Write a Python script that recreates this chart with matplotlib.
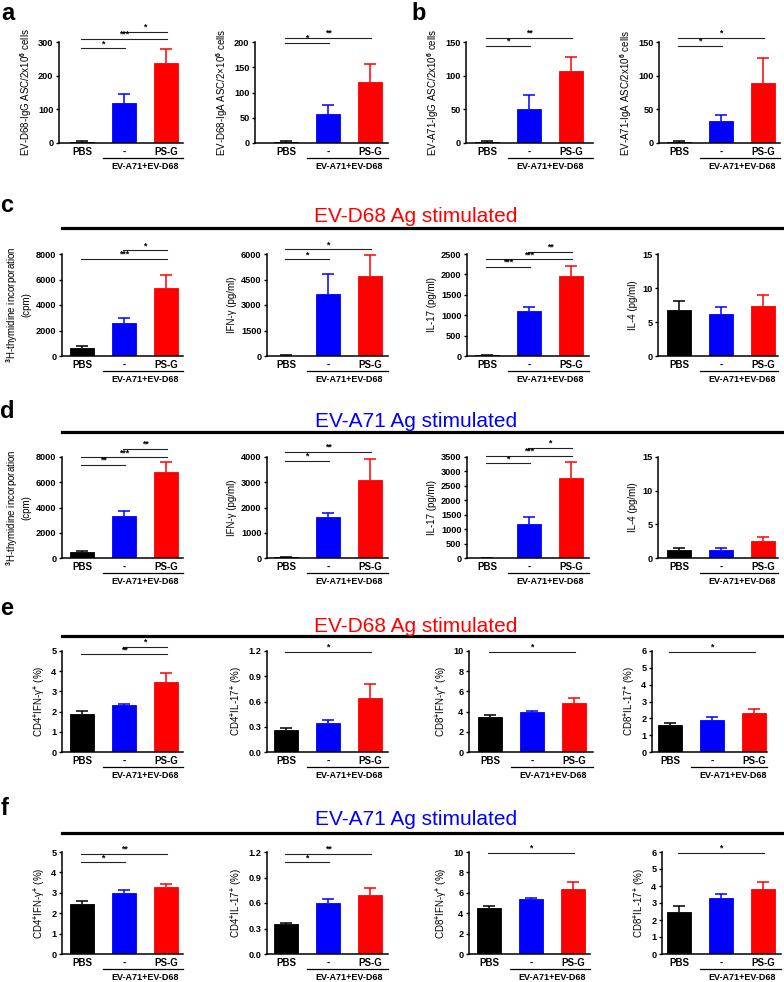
import numpy as np
import matplotlib
matplotlib.use('Agg')
import matplotlib.pyplot as plt
from matplotlib.transforms import blended_transform_factory

plt.rcParams['font.family'] = ['Liberation Sans', 'DejaVu Sans']
plt.rcParams['font.weight'] = 'bold'
plt.rcParams['mathtext.fontset'] = 'custom'
plt.rcParams['mathtext.rm'] = 'Liberation Sans:bold'
plt.rcParams['mathtext.bf'] = 'Liberation Sans:bold'
plt.rcParams['mathtext.it'] = 'Liberation Sans:bold'
plt.rcParams['mathtext.default'] = 'bf'

groups = ['PBS', '-', 'PS-G']
group_label = 'EV-A71+EV-D68'
bar_colors = ['#000000', '#0000FF', '#FF0000']

# ---- data (mean, upper SEM) ----
a_igg_mean = [3, 120, 238];      a_igg_err = [1.5, 25, 40]
a_iga_mean = [2, 57, 121];       a_iga_err = [1.5, 18, 35]
b_igg_mean = [1.5, 51, 107];     b_igg_err = [1, 20, 21]
b_iga_mean = [1.5, 33, 89];      b_iga_err = [1, 8, 37]

c_thy_mean = [650, 2600, 5350];  c_thy_err = [150, 400, 1000]
c_ifn_mean = [20, 3650, 4680];   c_ifn_err = [10, 1200, 1250]
c_il17_mean = [15, 1100, 1970];  c_il17_err = [5, 110, 240]
c_il4_mean = [6.8, 6.2, 7.4];    c_il4_err = [1.3, 1.0, 1.6]

d_thy_mean = [450, 3300, 6780];  d_thy_err = [80, 450, 800]
d_ifn_mean = [20, 1620, 3080];   d_ifn_err = [10, 180, 850]
d_il17_mean = [0, 1170, 2780];   d_il17_err = [0, 260, 550]
d_il4_mean = [1.2, 1.2, 2.5];    d_il4_err = [0.35, 0.35, 0.6]

e_cd4ifn_mean = [1.9, 2.33, 3.45];   e_cd4ifn_err = [0.15, 0.07, 0.45]
e_cd4il17_mean = [0.26, 0.35, 0.64]; e_cd4il17_err = [0.02, 0.025, 0.17]
e_cd8ifn_mean = [3.5, 3.95, 4.85];   e_cd8ifn_err = [0.2, 0.15, 0.45]
e_cd8il17_mean = [1.6, 1.88, 2.33];  e_cd8il17_err = [0.15, 0.17, 0.22]

f_cd4ifn_mean = [2.45, 3.0, 3.27];   f_cd4ifn_err = [0.15, 0.12, 0.15]
f_cd4il17_mean = [0.35, 0.6, 0.69];  f_cd4il17_err = [0.02, 0.045, 0.09]
f_cd8ifn_mean = [4.5, 5.35, 6.4];    f_cd8ifn_err = [0.2, 0.15, 0.65]
f_cd8il17_mean = [2.5, 3.27, 3.85];  f_cd8il17_err = [0.3, 0.25, 0.4]

# significance bars: (from, to, label, height)
a_igg_sig = [(0, 1, '*', 282), (0, 2, '***', 309), (1, 2, '*', 330)]
a_iga_sig = [(0, 1, '*', 198), (0, 2, '**', 208)]
b_igg_sig = [(0, 1, '*', 144), (0, 2, '**', 156)]
b_iga_sig = [(0, 1, '*', 144), (0, 2, '*', 156)]
c_thy_sig = [(0, 2, '***', 7630), (1, 2, '*', 8310)]
c_ifn_sig = [(0, 1, '*', 5690), (0, 2, '*', 6290)]
c_il17_sig = [(0, 1, '***', 2190), (0, 2, '***', 2370), (1, 2, '**', 2556)]
d_thy_sig = [(0, 1, '**', 7366), (0, 2, '***', 7976), (1, 2, '**', 8634)]
d_ifn_sig = [(0, 1, '*', 3842), (0, 2, '**', 4210)]
d_il17_sig = [(0, 1, '*', 3282), (0, 2, '***', 3535), (1, 2, '*', 3822)]
e_cd4ifn_sig = [(0, 2, '**', 4.84), (1, 2, '*', 5.21)]
e_cd4il17_sig = [(0, 2, '*', 1.19)]
e_cd8ifn_sig = [(0, 2, '*', 9.93)]
e_cd8il17_sig = [(0, 2, '*', 5.96)]
f_cd4ifn_sig = [(0, 1, '*', 4.5), (0, 2, '**', 4.9)]
f_cd4il17_sig = [(0, 1, '*', 1.08), (0, 2, '**', 1.18)]
f_cd8ifn_sig = [(0, 2, '*', 9.9)]
f_cd8il17_sig = [(0, 2, '*', 5.95)]

lab_thy = '$^{3}$H-thymidine incorporation\n(cpm)'
lab_ifn = 'IFN-γ (pg/ml)'
lab_il17 = 'IL-17 (pg/ml)'
lab_il4 = 'IL-4 (pg/ml)'

W, H = 784, 982
fig = plt.figure(figsize=(W / 100, H / 100), dpi=100)
fig.patch.set_facecolor('white')


def fx(px):
    return px / W


def fy(py):
    return 1 - py / H


def draw_panel(ax_px, mean, err, sig, ylabel, yticks, fmt='%g'):
    left, pbs, right, top, bottom = ax_px
    ax = fig.add_axes([fx(left), fy(bottom), (right - left) / W, (bottom - top) / H])
    x = np.arange(3)
    ax.bar(x, mean, width=0.55, color=bar_colors, edgecolor=bar_colors, linewidth=0.6, zorder=2)
    for i in range(3):
        # upper error only: stem + cap at the top
        ax.vlines(x[i], mean[i], mean[i] + err[i], color=bar_colors[i], lw=1.1, zorder=1)
        ax.plot([x[i] - 0.15, x[i] + 0.15], [mean[i] + err[i]] * 2, color=bar_colors[i],
                lw=1.1, zorder=1, solid_capstyle='butt')
    ax.set_xlim((left - pbs) / 42.0, (right - pbs) / 42.0)
    ax.set_ylim(yticks[0], yticks[-1])
    ax.set_yticks(yticks)
    ax.set_yticklabels([fmt % t for t in yticks])
    ax.set_xticks(x)
    ax.set_xticklabels(groups, fontsize=7)
    ax.tick_params(axis='x', length=0, pad=3)
    ax.tick_params(axis='y', length=2.5, width=1, labelsize=6.6, pad=1.5)
    for s in ['top', 'right']:
        ax.spines[s].set_visible(False)
    for s in ['left', 'bottom']:
        ax.spines[s].set_linewidth(1.1)
    ax.set_ylabel(ylabel, fontsize=7, labelpad=3)

    # group underline and label
    tr = blended_transform_factory(ax.transData, ax.transAxes)
    ax.plot([0.5, ax.get_xlim()[1]], [-0.15, -0.15], color='black', lw=0.9,
            transform=tr, clip_on=False)
    ax.text(1.5, -0.235, group_label, transform=tr, ha='center', va='center', fontsize=6.5)

    # significance
    for (i0, i1, lab, h) in sig:
        ax.plot([i0 - 0.03, i1 + 0.03], [h, h], color='#222222', lw=0.8, clip_on=False)
        ax.text((i0 + i1) / 2.0, h, lab, ha='center', va='bottom', fontsize=6.3, clip_on=False)
    return ax


# layout (px): lefts, PBS centres, rights, top, bottom for each row
row_ab = ([59, 255, 466, 659], [82, 286, 487, 679], [183, 388, 593, 780], 42, 143)
row_c = ([62, 267, 467, 658], [82, 286, 487, 679], [183, 388, 589, 778], 254, 356)
row_d = ([62, 267, 467, 658], [82, 286, 487, 679], [183, 388, 589, 778], 457, 558)
row_e = ([62, 267, 469, 652], [82, 286, 490, 670], [183, 388, 593, 767], 651, 752)
row_f = ([62, 267, 469, 662], [82, 286, 489, 679], [183, 388, 590, 781], 852, 954)


def geom(row, k):
    return (row[0][k], row[1][k], row[2][k], row[3], row[4])


draw_panel(geom(row_ab, 0), a_igg_mean, a_igg_err, a_igg_sig,
           'EV-D68-IgG ASC/2x10$^{6}$ cells', [0, 100, 200, 300])
draw_panel(geom(row_ab, 1), a_iga_mean, a_iga_err, a_iga_sig,
           'EV-D68-IgA ASC/2×10$^{6}$ cells', [0, 50, 100, 150, 200])
draw_panel(geom(row_ab, 2), b_igg_mean, b_igg_err, b_igg_sig,
           'EV-A71-IgG ASC/2x10$^{6}$ cells', [0, 50, 100, 150])
draw_panel(geom(row_ab, 3), b_iga_mean, b_iga_err, b_iga_sig,
           'EV-A71-IgA ASC/2x10$^{6}$ cells', [0, 50, 100, 150])

draw_panel(geom(row_c, 0), c_thy_mean, c_thy_err, c_thy_sig, lab_thy, [0, 2000, 4000, 6000, 8000])
draw_panel(geom(row_c, 1), c_ifn_mean, c_ifn_err, c_ifn_sig, lab_ifn, [0, 1500, 3000, 4500, 6000])
draw_panel(geom(row_c, 2), c_il17_mean, c_il17_err, c_il17_sig, lab_il17, [0, 500, 1000, 1500, 2000, 2500])
draw_panel(geom(row_c, 3), c_il4_mean, c_il4_err, [], lab_il4, [0, 5, 10, 15])

draw_panel(geom(row_d, 0), d_thy_mean, d_thy_err, d_thy_sig, lab_thy, [0, 2000, 4000, 6000, 8000])
draw_panel(geom(row_d, 1), d_ifn_mean, d_ifn_err, d_ifn_sig, lab_ifn, [0, 1000, 2000, 3000, 4000])
draw_panel(geom(row_d, 2), d_il17_mean, d_il17_err, d_il17_sig, lab_il17,
           [0, 500, 1000, 1500, 2000, 2500, 3000, 3500])
draw_panel(geom(row_d, 3), d_il4_mean, d_il4_err, [], lab_il4, [0, 5, 10, 15])

pct_4ifn = 'CD4$^{+}$IFN-γ$^{+}$ (%)'
pct_4il17 = 'CD4$^{+}$IL-17$^{+}$ (%)'
pct_8ifn = 'CD8$^{+}$IFN-γ$^{+}$ (%)'
pct_8il17 = 'CD8$^{+}$IL-17$^{+}$ (%)'

for row, data in [(row_e, [(e_cd4ifn_mean, e_cd4ifn_err, e_cd4ifn_sig),
                           (e_cd4il17_mean, e_cd4il17_err, e_cd4il17_sig),
                           (e_cd8ifn_mean, e_cd8ifn_err, e_cd8ifn_sig),
                           (e_cd8il17_mean, e_cd8il17_err, e_cd8il17_sig)]),
                  (row_f, [(f_cd4ifn_mean, f_cd4ifn_err, f_cd4ifn_sig),
                           (f_cd4il17_mean, f_cd4il17_err, f_cd4il17_sig),
                           (f_cd8ifn_mean, f_cd8ifn_err, f_cd8ifn_sig),
                           (f_cd8il17_mean, f_cd8il17_err, f_cd8il17_sig)])]:
    draw_panel(geom(row, 0), data[0][0], data[0][1], data[0][2], pct_4ifn, [0, 1, 2, 3, 4, 5])
    draw_panel(geom(row, 1), data[1][0], data[1][1], data[1][2], pct_4il17,
               [0.0, 0.3, 0.6, 0.9, 1.2], fmt='%.1f')
    draw_panel(geom(row, 2), data[2][0], data[2][1], data[2][2], pct_8ifn, [0, 2, 4, 6, 8, 10])
    draw_panel(geom(row, 3), data[3][0], data[3][1], data[3][2], pct_8il17, [0, 1, 2, 3, 4, 5, 6])

# section headers
headers = [('EV-D68 Ag stimulated', '#FF0000', 222, 228),
           ('EV-A71 Ag stimulated', '#0000FF', 427, 432),
           ('EV-D68 Ag stimulated', '#FF0000', 632, 636),
           ('EV-A71 Ag stimulated', '#0000FF', 825, 833)]
for txt, col, base_y, line_y in headers:
    fig.text(fx(416), fy(base_y), txt, color=col, fontsize=15, fontweight='normal',
             ha='center', va='baseline')
    fig.add_artist(plt.Line2D([fx(62), fx(783)], [fy(line_y), fy(line_y)],
                              transform=fig.transFigure, color='black', lw=2.3))

# panel letters
for letter, px, py in [('a', 1, 20), ('b', 411, 20), ('c', 0, 212),
                       ('d', 0, 418), ('e', 0, 615), ('f', 1, 815)]:
    fig.text(fx(px), fy(py), letter, fontsize=17, fontweight='bold', ha='left', va='baseline')

plt.savefig('out.png', dpi=100)
